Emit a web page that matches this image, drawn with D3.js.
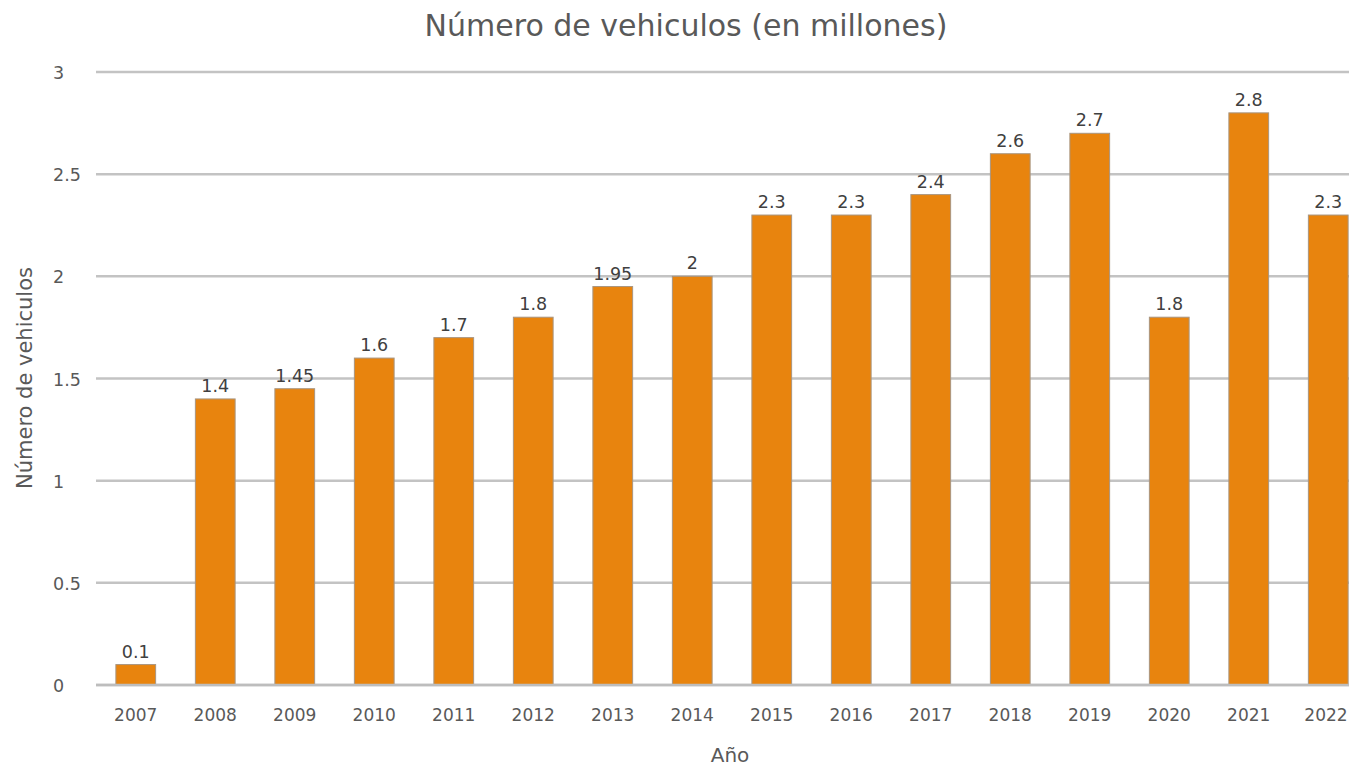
<!DOCTYPE html>
<html>
<head>
<meta charset="utf-8">
<script src="https://cdn.jsdelivr.net/npm/d3@7"></script>
<style>
  body { margin: 0; background: #fff; }
  svg { display: block; font-family: "DejaVu Sans", sans-serif; }
</style>
</head>
<body>
<svg class="chart" width="1349" height="768"></svg>
<script>
const years = ["2007", "2008", "2009", "2010", "2011", "2012", "2013", "2014",
  "2015", "2016", "2017", "2018", "2019", "2020", "2021", "2022"];
const vehicles = [0.1, 1.4, 1.45, 1.6, 1.7, 1.8, 1.95, 2, 2.3, 2.3, 2.4, 2.6, 2.7, 1.8, 2.8, 2.3];
const yTicks = [0, 0.5, 1, 1.5, 2, 2.5, 3];

const svg = d3.select(".chart");
const width = 1349;
const textColor = "#595959";

// plot area (runs past the right edge, like the original screenshot)
const plotLeft = 96, plotRight = 1368, plotTop = 72, plotBottom = 685;

const x = d3.scaleBand()
  .domain(years)
  .range([plotLeft, plotRight])
  .paddingInner(0.5)
  .paddingOuter(0.25);

const y = d3.scaleLinear().domain([0, 3]).range([plotBottom, plotTop]);

// gridlines
svg.append("g")
  .selectAll("line")
  .data(yTicks)
  .enter()
  .append("line")
  .attr("x1", plotLeft)
  .attr("x2", width)
  .attr("y1", (d) => y(d))
  .attr("y2", (d) => y(d))
  .attr("stroke", "#c3c3c3")
  .attr("stroke-width", 2.5);

// y tick labels
svg.append("g")
  .selectAll("text")
  .data(yTicks)
  .enter()
  .append("text")
  .attr("x", 53)
  .attr("y", (d) => y(d) + 7)
  .attr("fill", textColor)
  .attr("font-size", 17.5)
  .text((d) => d);

// bars
svg.append("g")
  .selectAll("rect")
  .data(vehicles)
  .enter()
  .append("rect")
  .attr("x", (d, i) => x(years[i]))
  .attr("width", x.bandwidth())
  .attr("y", (d) => y(d))
  .attr("height", (d) => y(0) - y(d))
  .attr("fill", "#e8840e")
  .attr("stroke", "#a89580")
  .attr("stroke-width", 1);

// data labels
svg.append("g")
  .selectAll("text")
  .data(vehicles)
  .enter()
  .append("text")
  .attr("x", (d, i) => x(years[i]) + x.bandwidth() / 2)
  .attr("y", (d) => y(d) - 7)
  .attr("text-anchor", "middle")
  .attr("fill", "#404040")
  .attr("font-size", 17.5)
  .text((d) => d);

// x axis line
svg.append("line")
  .attr("x1", plotLeft)
  .attr("x2", width)
  .attr("y1", y(0))
  .attr("y2", y(0))
  .attr("stroke", "#bdbdbd")
  .attr("stroke-width", 2.5);

// year labels
svg.append("g")
  .selectAll("text")
  .data(years)
  .enter()
  .append("text")
  .attr("x", (d) => Math.min(x(d) + x.bandwidth() / 2, 1326))
  .attr("y", 721)
  .attr("text-anchor", "middle")
  .attr("fill", textColor)
  .attr("font-size", 17)
  .text((d) => d);

// title
svg.append("text")
  .attr("x", 686)
  .attr("y", 36)
  .attr("text-anchor", "middle")
  .attr("fill", textColor)
  .attr("font-size", 30)
  .text("Número de vehiculos (en millones)");

// axis titles
svg.append("text")
  .attr("x", 730)
  .attr("y", 762)
  .attr("text-anchor", "middle")
  .attr("fill", textColor)
  .attr("font-size", 20)
  .text("Año");

svg.append("text")
  .attr("transform", "translate(32, 378) rotate(-90)")
  .attr("text-anchor", "middle")
  .attr("fill", textColor)
  .attr("font-size", 21)
  .text("Número de vehiculos");
</script>
</body>
</html>
